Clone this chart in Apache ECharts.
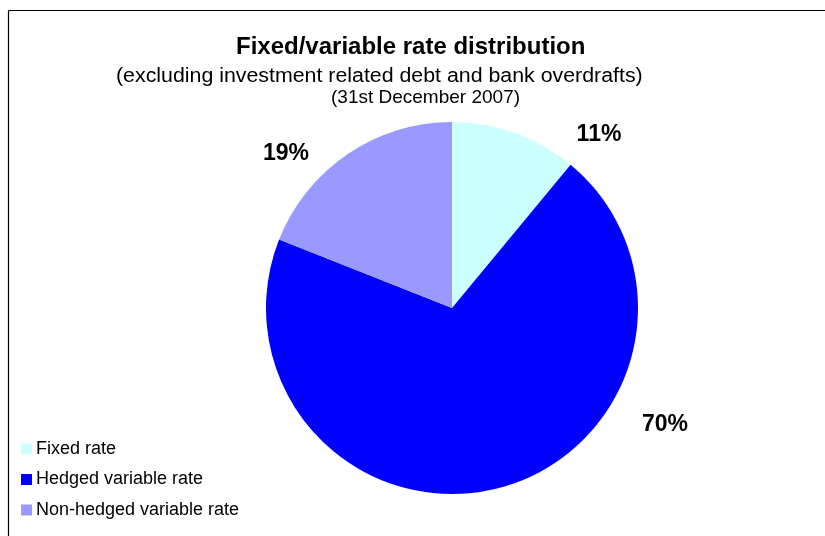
<!DOCTYPE html>
<html>
<head>
<meta charset="utf-8">
<script src="https://cdn.jsdelivr.net/npm/echarts@6/dist/echarts.min.js"></script>
<style>
  html, body { margin: 0; padding: 0; background: #fff; }
  #chart { width: 825px; height: 536px; }
</style>
</head>
<body>
<div id="chart"></div>
<script>
// Debt split by rate type at year end
const categories = ['Fixed rate', 'Hedged variable rate', 'Non-hedged variable rate'];
const shares = [11, 70, 19];
const sliceColors = ['#CCFFFF', '#0000FF', '#9999FF'];
// Where each percentage label sits (pixel anchor of label centre)
const labelAnchors = [[599, 135], [665, 425], [286, 154]];

const chart = echarts.init(document.getElementById('chart'), null, { renderer: 'canvas' });
const font = 'Arial, "Liberation Sans", Helvetica, sans-serif';

chart.setOption({
  animation: false,
  backgroundColor: '#ffffff',
  color: sliceColors,
  graphic: [
    // frame lines along the top and left edges
    { type: 'line', shape: { x1: 8.5, y1: 10.5, x2: 825, y2: 10.5 }, style: { stroke: '#000', lineWidth: 1.2 } },
    { type: 'line', shape: { x1: 8.5, y1: 10.5, x2: 8.5, y2: 536 }, style: { stroke: '#000', lineWidth: 1.2 } },
    // heading block
    { type: 'text', x: 236, y: 47,
      style: { text: 'Fixed/variable rate distribution', font: 'bold 24px ' + font, fill: '#000', textAlign: 'left', textVerticalAlign: 'middle' } },
    { type: 'text', x: 116, y: 76, scaleX: 1.067,
      style: { text: '(excluding investment related debt and bank overdrafts)', font: '20px ' + font, fill: '#000', textAlign: 'left', textVerticalAlign: 'middle' } },
    { type: 'text', x: 331, y: 98,
      style: { text: '(31st December 2007)', font: '19px ' + font, fill: '#000', textAlign: 'left', textVerticalAlign: 'middle' } }
  ],
  legend: {
    orient: 'vertical',
    left: 21,
    top: 440,
    padding: 0,
    itemWidth: 11,
    itemHeight: 11,
    itemGap: 12.5,
    icon: 'rect',
    selectedMode: false,
    textStyle: { fontFamily: font, fontSize: 18, color: '#000', padding: [0, 0, 0, -1] },
    data: categories
  },
  series: [{
    type: 'pie',
    center: [452, 308],
    radius: 186,
    startAngle: 90,
    clockwise: true,
    silent: true,
    itemStyle: { borderWidth: 0 },
    label: {
      show: true,
      position: 'outside',
      formatter: p => p.value + '%',
      fontFamily: font,
      fontWeight: 'bold',
      fontSize: 23,
      color: '#000'
    },
    labelLine: { show: false },
    labelLayout: params => {
      const a = labelAnchors[params.dataIndex];
      return { x: a[0], y: a[1], align: 'center', verticalAlign: 'middle' };
    },
    data: categories.map((name, i) => ({ name, value: shares[i] }))
  }]
});
</script>
</body>
</html>
